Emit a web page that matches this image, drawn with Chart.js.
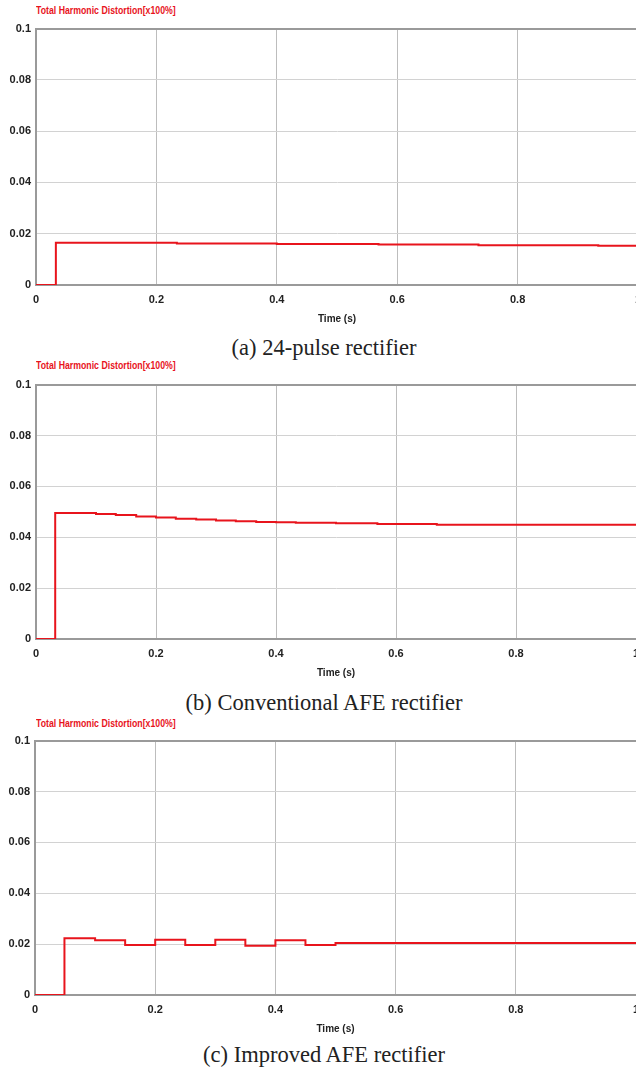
<!DOCTYPE html>
<html>
<head>
<meta charset="utf-8">
<script src="https://cdn.jsdelivr.net/npm/chart.js@4"></script>
<style>
  html, body { margin: 0; padding: 0; background: #fff; }
  body { width: 636px; height: 1070px; overflow: hidden; position: relative; }
  canvas { position: absolute; left: 0; }
  .thd-label {
    position: absolute; left: 36px;
    font: bold 11.5px 'Liberation Sans', Arial, sans-serif;
    color: #e8141c; line-height: 13px; white-space: nowrap;
    transform: scaleX(0.76); transform-origin: left center;
  }
  .caption {
    position: absolute; left: 0; width: 648px; text-align: center;
    font: 22.5px 'Liberation Serif', 'DejaVu Serif', serif;
    color: #222; line-height: 26px;
  }
</style>
</head>
<body>
<div class="thd-label" style="top:4px">Total Harmonic Distortion[x100%]</div>
<canvas id="chart24" width="644" height="308" style="top:17px"></canvas>
<div class="caption" style="top:335px">(a) 24-pulse rectifier</div>

<div class="thd-label" style="top:359px">Total Harmonic Distortion[x100%]</div>
<canvas id="chartConv" width="642" height="306" style="top:373px"></canvas>
<div class="caption" style="top:690px">(b) Conventional AFE rectifier</div>

<div class="thd-label" style="top:717px">Total Harmonic Distortion[x100%]</div>
<canvas id="chartImpr" width="642" height="306" style="top:729px"></canvas>
<div class="caption" style="top:1042px">(c) Improved AFE rectifier</div>

<script>
// step change times (s) and THD value held from each time on
const time24 = [0, 0.033, 0.234, 0.4, 0.569, 0.735, 0.934, 1.0];
const thd24  = [0, 0.0165, 0.0162, 0.0160, 0.0158, 0.0155, 0.0153, 0.0153];

const timeConv = [0, 0.032, 0.1, 0.133, 0.167, 0.2, 0.233, 0.267, 0.3, 0.333, 0.367, 0.4, 0.433, 0.5, 0.569, 0.668, 1.0];
const thdConv  = [0, 0.0495, 0.0491, 0.0487, 0.0482, 0.0478, 0.0473, 0.0470, 0.0466, 0.0463, 0.0460, 0.0459, 0.0457, 0.0455, 0.0452, 0.0449, 0.0449];

const timeImpr = [0, 0.049, 0.1, 0.15, 0.2, 0.25, 0.3, 0.35, 0.4, 0.45, 0.5, 1.0];
const thdImpr  = [0, 0.0223, 0.0215, 0.0197, 0.0217, 0.0197, 0.0217, 0.0194, 0.0215, 0.0197, 0.0204, 0.0204];

const xLabel = 'Time (s)';
const sans = "'Liberation Sans', Arial, sans-serif";

// 0.10 -> "0.1", 1.0 -> "1"
const fmt = v => String(Number(v.toFixed(3)));

function makeChart(id, times, values, leftWidth) {
    const pts = times.map((t, i) => ({ x: t, y: values[i] }));
    new Chart(document.getElementById(id), {
        type: 'line',
        data: {
            datasets: [{
                data: pts,
                borderColor: '#e8141c',
                borderWidth: 2,
                pointRadius: 0,
                stepped: 'before',
                fill: false
            }]
        },
        options: {
            responsive: false,
            animation: false,
            layout: { padding: { top: 8, right: 6, left: 0, bottom: 0 } },
            plugins: { legend: { display: false }, tooltip: { enabled: false } },
            scales: {
                x: {
                    type: 'linear', min: 0, max: 1,
                    ticks: { stepSize: 0.2, padding: 8, color: '#222', callback: fmt,
                             font: { family: sans, size: 11, weight: 'bold' } },
                    grid: { color: '#bdbdbd', lineWidth: 1, drawTicks: false },
                    border: { color: '#9a9a9a', width: 2 },
                    title: { display: true, text: xLabel, color: '#222', padding: { top: 2, bottom: 0 },
                             font: { family: sans, size: 10, weight: 'bold' } },
                    afterFit: s => { s.height = 40; s.paddingRight = 0; s.paddingLeft = 0; }
                },
                y: {
                    min: 0, max: 0.1,
                    ticks: { stepSize: 0.02, padding: 5, color: '#222', callback: fmt,
                             font: { family: sans, size: 11, weight: 'bold' } },
                    grid: {
                        color: c => (c.tick && c.tick.value >= 0.0999) ? '#9a9a9a' : '#d2d2d2',
                        lineWidth: c => (c.tick && c.tick.value >= 0.0999) ? 2 : 1,
                        drawTicks: false
                    },
                    border: { color: '#9a9a9a', width: 2 },
                    afterFit: s => { s.width = leftWidth; }
                }
            }
        }
    });
}

makeChart('chart24', time24, thd24, 36);
makeChart('chartConv', timeConv, thdConv, 36);
makeChart('chartImpr', timeImpr, thdImpr, 35);
</script>
</body>
</html>
